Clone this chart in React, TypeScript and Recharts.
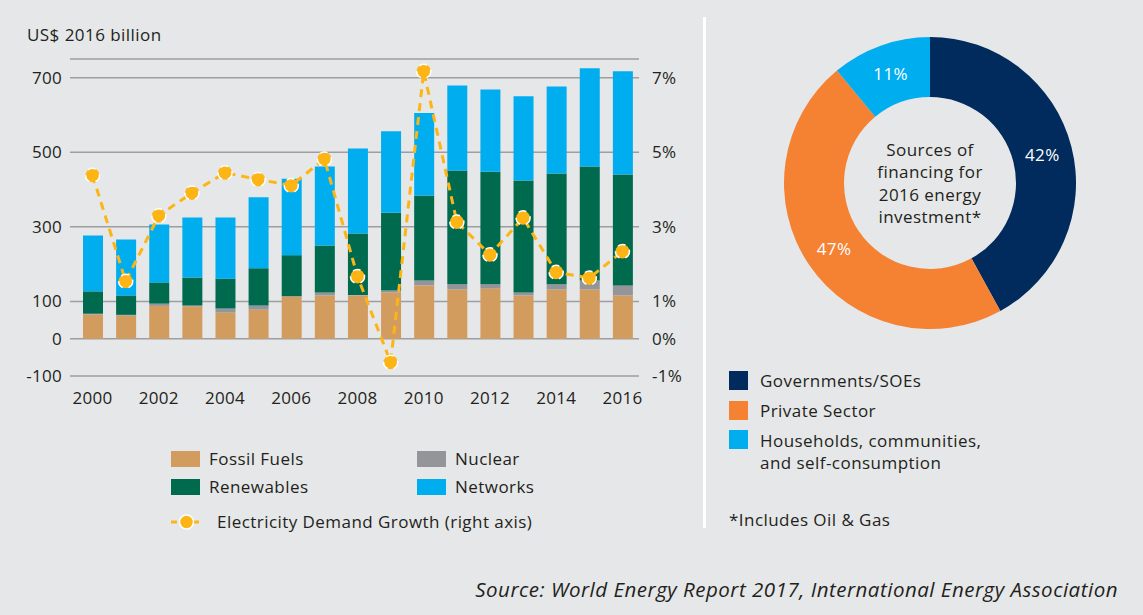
import React from "react";
import { ComposedChart, Bar, Line, XAxis, YAxis, CartesianGrid, PieChart, Pie, Cell } from "recharts";

const years = ["2000", "2001", "2002", "2003", "2004", "2005", "2006", "2007", "2008", "2009", "2010", "2011", "2012", "2013", "2014", "2015", "2016"];
const fossil = [65, 62, 88, 87, 70, 78, 113, 116, 116, 124, 143, 132, 135, 116, 132, 132, 116];
const nuclear = [2, 2, 6, 2, 11, 11, 1, 8, 1, 5, 13, 14, 11, 8, 14, 24, 27];
const renewables = [60, 52, 57, 75, 80, 100, 110, 126, 165, 209, 228, 305, 302, 300, 297, 306, 297];
const networks = [150, 150, 155, 161, 164, 190, 205, 212, 228, 218, 221, 228, 220, 226, 233, 263, 277];
const demandGrowth = [4.38, 1.54, 3.3, 3.91, 4.45, 4.27, 4.11, 4.82, 1.67, -0.63, 7.17, 3.13, 2.25, 3.24, 1.78, 1.63, 2.34];

const leftTicks = [-100, 0, 100, 300, 500, 700];
const rightTicks = [-1, 0, 1, 3, 5, 7];

const financeNames = ["Governments/SOEs", "Private Sector", "Households, communities, and self-consumption"];
const financeShares = [42, 47, 11];

const colors = {
    bg: "#e6e7e8",
    fossil: "#d39c5f",
    nuclear: "#939598",
    renewables: "#006a4e",
    networks: "#00aeef",
    growth: "#fdb515",
    grid: "#9d9ea0",
    text: "#231f20",
};
const financeColors = ["#002b5c", "#f58133", "#00aeef"];

const font = "'Open Sans', Lato, sans-serif";
const spacing = "0.45px";

const tableData = years.map((y, i) => ({
    year: y,
    fossil: fossil[i],
    nuclear: nuclear[i],
    renewables: renewables[i],
    networks: networks[i],
    growth: demandGrowth[i],
}));

const pieData = financeNames.map((name, i) => ({ name, value: financeShares[i] }));

const RADIAN = Math.PI / 180;

function PieLabel(props: any) {
    const { cx, cy, midAngle, innerRadius, outerRadius, value } = props;
    const r = (innerRadius + outerRadius) / 2;
    const x = cx + r * Math.cos(-midAngle * RADIAN);
    const y = cy + r * Math.sin(-midAngle * RADIAN);
    return (
        <text x={x} y={y} fill="#fff" fontSize={17} fontFamily={font} style={{ letterSpacing: spacing }} textAnchor="middle" dominantBaseline="central">
            {value}%
        </text>
    );
}

function Swatch({ color, w = 29, h = 16 }: { color: string; w?: number; h?: number }) {
    return <div style={{ width: w, height: h, background: color, flex: "none" }} />;
}

export default function App() {
    const tick = { fill: colors.text, fontSize: 17, fontFamily: font, style: { letterSpacing: "0.3px" } };
    const abs = (left: number, top: number): React.CSSProperties => ({ position: "absolute", left, top });
    const row: React.CSSProperties = { display: "flex", alignItems: "center", gap: 9, fontSize: 17, whiteSpace: "nowrap" };

    return (
        <div
            style={{
                position: "absolute",
                left: 0,
                top: 0,
                width: 1143,
                height: 615,
                background: colors.bg,
                fontFamily: font,
                letterSpacing: spacing,
                color: colors.text,
                overflow: "hidden",
            }}
        >
            <div style={{ ...abs(27, 23), fontSize: 17 }}>US$ 2016 billion</div>

            <div style={abs(0, 0)}>
                <ComposedChart width={700} height={420} data={tableData} margin={{ top: 59, right: 0, left: 0, bottom: 4 }} barSize={20}>
                    <CartesianGrid yAxisId="left" vertical={false} stroke={colors.grid} strokeWidth={1.5} />
                    <XAxis dataKey="year" interval={1} tickLine={false} axisLine={false} tickSize={0} tickMargin={16} height={40} padding={{ left: 6, right: 0 }} tick={tick} />
                    <YAxis yAxisId="left" domain={[-100, 750]} ticks={leftTicks} width={70} tickLine={false} axisLine={false} tickSize={0} tickMargin={8} tick={tick} />
                    <YAxis yAxisId="right" orientation="right" domain={[-1, 7.5]} ticks={rightTicks} width={61} tickLine={false} axisLine={false} tickSize={0} tickMargin={13} tick={tick} tickFormatter={(v: number) => `${v}%`} />
                    <Bar yAxisId="left" dataKey="fossil" stackId="a" fill={colors.fossil} isAnimationActive={false} />
                    <Bar yAxisId="left" dataKey="nuclear" stackId="a" fill={colors.nuclear} isAnimationActive={false} />
                    <Bar yAxisId="left" dataKey="renewables" stackId="a" fill={colors.renewables} isAnimationActive={false} />
                    <Bar yAxisId="left" dataKey="networks" stackId="a" fill={colors.networks} isAnimationActive={false} />
                    <Line
                        yAxisId="right"
                        type="linear"
                        dataKey="growth"
                        stroke={colors.growth}
                        strokeWidth={3}
                        strokeDasharray="8 6"
                        dot={{ r: 7, fill: colors.growth, stroke: "#fff", strokeWidth: 1.5 }}
                        isAnimationActive={false}
                    />
                </ComposedChart>
            </div>

            {/* bar chart legend */}
            <div style={{ ...abs(171, 447), ...row }}>
                <Swatch color={colors.fossil} />
                <span>Fossil Fuels</span>
            </div>
            <div style={{ ...abs(417, 447), ...row }}>
                <Swatch color={colors.nuclear} />
                <span>Nuclear</span>
            </div>
            <div style={{ ...abs(171, 475), ...row }}>
                <Swatch color={colors.renewables} />
                <span>Renewables</span>
            </div>
            <div style={{ ...abs(417, 475), ...row }}>
                <Swatch color={colors.networks} />
                <span>Networks</span>
            </div>
            <div style={{ ...abs(171, 510), ...row, gap: 15 }}>
                <svg width={31} height={22}>
                    <line x1={0} y1={11} x2={31} y2={11} stroke={colors.growth} strokeWidth={3} strokeDasharray="6 5" />
                    <circle cx={15.5} cy={11} r={7} fill={colors.growth} stroke="#fff" strokeWidth={1.5} />
                </svg>
                <span>Electricity Demand Growth (right axis)</span>
            </div>

            {/* divider */}
            <div style={{ position: "absolute", left: 703, top: 17, width: 3, height: 511, background: "#fff" }} />

            {/* donut */}
            <div style={abs(780, 33)}>
                <PieChart width={300} height={300} margin={{ top: 0, right: 0, bottom: 0, left: 0 }}>
                    <Pie
                        data={pieData}
                        dataKey="value"
                        cx={150}
                        cy={150}
                        innerRadius={86}
                        outerRadius={146}
                        startAngle={90}
                        endAngle={-270}
                        stroke="none"
                        label={PieLabel}
                        labelLine={false}
                        isAnimationActive={false}
                    >
                        {pieData.map((d, i) => (
                            <Cell key={d.name} fill={financeColors[i]} />
                        ))}
                    </Pie>
                </PieChart>
            </div>
            <div style={{ position: "absolute", left: 845, top: 139, width: 170, textAlign: "center", fontSize: 17, lineHeight: "22.3px" }}>
                Sources of
                <br />
                financing for
                <br />
                2016 energy
                <br />
                investment*
            </div>

            {/* donut legend */}
            <div style={{ ...abs(729, 369), ...row, gap: 12 }}>
                <Swatch color={financeColors[0]} w={19} h={19} />
                <span>{financeNames[0]}</span>
            </div>
            <div style={{ ...abs(729, 399), ...row, gap: 12 }}>
                <Swatch color={financeColors[1]} w={19} h={19} />
                <span>{financeNames[1]}</span>
            </div>
            <div style={{ ...abs(729, 430), ...row, alignItems: "flex-start", gap: 12, lineHeight: "22px" }}>
                <Swatch color={financeColors[2]} w={19} h={19} />
                <span>
                    Households, communities,
                    <br />
                    and self-consumption
                </span>
            </div>
            <div style={{ ...abs(729, 508), fontSize: 17 }}>*Includes Oil &amp; Gas</div>

            <div style={{ position: "absolute", right: 25, top: 575, fontSize: 20.5, fontStyle: "italic", whiteSpace: "nowrap", letterSpacing: "0.5px" }}>
                Source: World Energy Report 2017, International Energy Association
            </div>
        </div>
    );
}
